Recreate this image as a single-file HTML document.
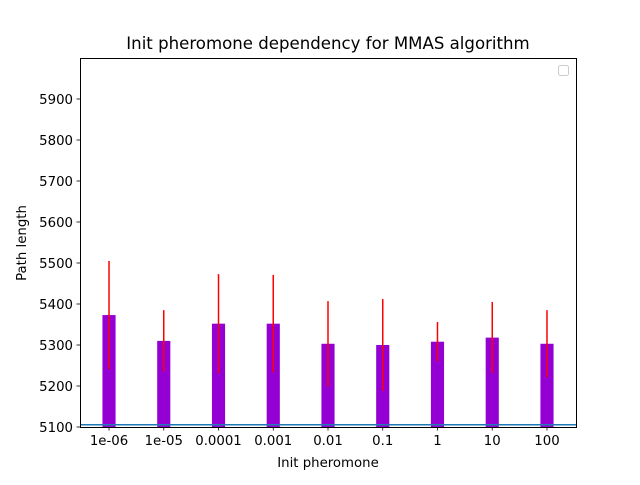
<!DOCTYPE html>
<html><head><meta charset="utf-8"><style>body{margin:0;background:#fff}svg{font-family:"DejaVu Sans","Liberation Sans",sans-serif}</style></head>
<body>
<svg id="chart" width="640" height="480" xmlns="http://www.w3.org/2000/svg"></svg>
<script>
const categories = ["1e-06","1e-05","0.0001","0.001","0.01","0.1","1","10","100"];
const values = [5373,5310,5352,5352,5303,5300,5308,5318,5303];
const errors = [132,75,121,119,104,112,48,87,82];
const yTicks = [5100,5200,5300,5400,5500,5600,5700,5800,5900];
const baseline = 5105.5;

const L=80,R=576,T=58,B=427, yMin=5100,yMax=6000, xMin=-0.53,xMax=8.53;
const sx=v=>L+(v-xMin)/(xMax-xMin)*(R-L);
const sy=v=>B-(v-yMin)/(yMax-yMin)*(B-T);
const svg=document.getElementById('chart');
const NS='http://www.w3.org/2000/svg';
function mk(tag,attrs,text){const e=document.createElementNS(NS,tag);for(const k in attrs)e.setAttribute(k,attrs[k]);if(text!==undefined)e.textContent=text;svg.appendChild(e);return e;}

categories.forEach((c,i)=>{
  const x0=sx(i-0.12), x1=sx(i+0.12);
  const b=mk('rect',{x:x0,y:sy(values[i]),width:x1-x0,height:B-sy(values[i]),fill:'#9400d3'});
  
  
  const e=mk('line',{x1:sx(i),x2:sx(i),y1:sy(values[i]-errors[i]),y2:sy(values[i]+errors[i]),stroke:'#ff0000','stroke-width':1.5});
  
  
  const t=mk('line',{x1:sx(i),x2:sx(i),y1:B,y2:B+3.5,stroke:'#000','stroke-width':0.8});
  
  
  const lb=mk('text',{x:sx(i),y:B+18,'font-size':13.3,'text-anchor':'middle'},c);
  
  
});
const bl=mk('line',{x1:L,x2:R,y1:sy(baseline),y2:sy(baseline),stroke:'#1f77b4','stroke-width':1.5});


yTicks.forEach(v=>{
  const t=mk('line',{x1:L-3.5,x2:L,y1:sy(v),y2:sy(v),stroke:'#000','stroke-width':0.8});
  
  
  const lb=mk('text',{x:L-7,y:sy(v)+4.8,'font-size':13.3,'text-anchor':'end'},v);
  
  
});
</script>
<svg style="position:absolute;left:0;top:0" width="640" height="480" xmlns="http://www.w3.org/2000/svg">
<rect x="80.5" y="58.5" width="496" height="369" fill="none" stroke="#000" stroke-width="1"/>
<rect x="558.5" y="65.5" width="10" height="10" rx="2" fill="none" stroke="#ccc"/>
<text x="328" y="49" font-size="16.6" text-anchor="middle">Init pheromone dependency for MMAS algorithm</text>
<text x="328" y="467" font-size="13.3" text-anchor="middle">Init pheromone</text>
<text transform="translate(26,243) rotate(-90)" font-size="13.3" text-anchor="middle">Path length</text>
</svg>
</body></html>
